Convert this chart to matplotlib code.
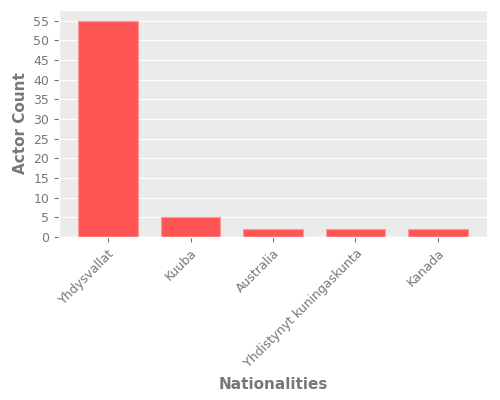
import matplotlib
matplotlib.use('Agg')
import matplotlib.pyplot as plt

plt.style.use('ggplot')

nationalities = ['Yhdysvallat', 'Kuuba', 'Australia', 'Yhdistynyt kuningaskunta', 'Kanada']
actor_counts = [55, 5, 2, 2, 2]

fig, ax = plt.subplots(figsize=(5, 4), dpi=100)
ax.set_facecolor('#ebebeb')
ax.bar(nationalities, actor_counts, color='#ff5555', edgecolor='#ff9999', linewidth=0.8, width=0.72)

ax.set_xlabel('Nationalities', fontsize=11, fontweight='bold', color='#777777', labelpad=5)
ax.set_ylabel('Actor Count', fontsize=11, fontweight='bold', color='#777777')
ax.set_yticks(range(0, 56, 5))
ax.tick_params(axis='both', labelsize=9, colors='#777777')
ax.grid(axis='x', visible=False)
plt.setp(ax.get_xticklabels(), rotation=45, ha='right', va='top', rotation_mode='anchor')

plt.subplots_adjust(left=0.118, right=0.974, top=0.975, bottom=0.408)
plt.savefig('out.png')
